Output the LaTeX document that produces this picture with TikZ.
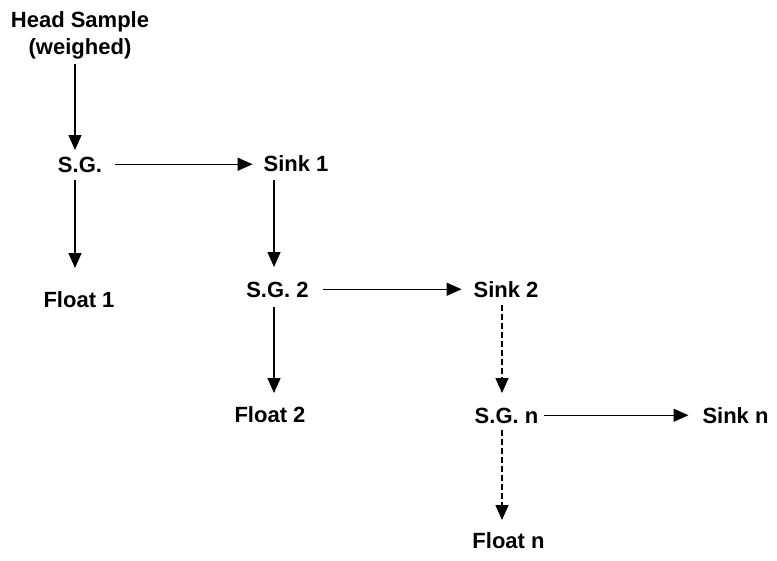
\documentclass[tikz,border=0pt]{standalone}
\usepackage{fontspec}
\setmainfont{Liberation Sans}
\usetikzlibrary{arrows.meta}
\begin{document}
\begin{tikzpicture}[x=1pt,y=-1pt,
  lbl/.style={inner sep=0pt, outer sep=0pt, anchor=base, text height=15.5pt, text depth=0pt,
    font=\fontsize{22}{27}\selectfont\bfseries},
  arr/.style={line width=1.4pt, -{Triangle[length=15pt,width=13pt]}},
  darr/.style={arr, dash pattern=on 6pt off 3pt}]
\useasboundingbox (0,0) rectangle (777,560);
% columns
\coordinate (colA) at (75,0);
\coordinate (colB) at (274,0);
\coordinate (colC) at (502,0);
% nodes
\node[inner sep=0pt, align=center, font=\fontsize{22}{27}\selectfont\bfseries] (hs) at (80,35) {Head Sample\\(weighed)};
\node[lbl] (sg1) at (80,172) {S.G.};
\node[lbl] (sink1) at (296,171) {Sink 1};
\node[lbl] (float1) at (79,307) {Float 1};
\node[lbl] (sg2) at (277.5,297) {S.G. 2};
\node[lbl] (sink2) at (506,297) {Sink 2};
\node[lbl] (float2) at (270,422) {Float 2};
\node[lbl] (sgn) at (506.5,423) {S.G. n};
\node[lbl] (sinkn) at (735.5,423) {Sink n};
\node[lbl] (floatn) at (508.5,548) {Float n};
% connectors
\draw[arr, shorten <=5pt, shorten >=6.5pt] (hs.south -| colA) -- (sg1.north -| colA);
\draw[arr, shorten <=8pt, shorten >=23.5pt] (sg1.south -| colA) -- (float1.north -| colA);
\draw[arr, shorten <=13pt, shorten >=11pt] (sg1.east) -- (sink1.west |- sg1.east);
\draw[arr, shorten <=9pt, shorten >=14.5pt] (sink1.south -| colB) -- (sg2.north -| colB);
\draw[arr, shorten <=14pt, shorten >=12pt] (sg2.east) -- (sink2.west |- sg2.east);
\draw[arr, shorten <=10pt, shorten >=13.5pt] (sg2.south -| colB) -- (float2.north -| colB);
\draw[darr, shorten <=8pt, shorten >=14.5pt] (sink2.south -| colC) -- (sgn.north -| colC);
\draw[arr, shorten <=6pt, shorten >=14pt] (sgn.east) -- (sinkn.west |- sgn.east);
\draw[darr, shorten <=7pt, shorten >=12.5pt] (sgn.south -| colC) -- (floatn.north -| colC);
\end{tikzpicture}
\end{document}
